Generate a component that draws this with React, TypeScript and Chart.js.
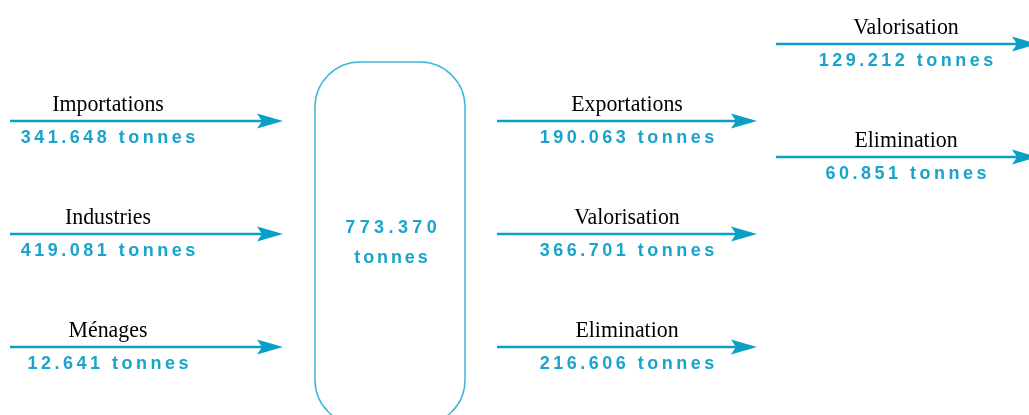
import React, { useEffect, useRef } from "react";
import { Chart, registerables } from "chart.js";

Chart.register(...registerables);

// ---- data ----
const inputLabels = ["Importations", "Industries", "Ménages"];
const inputValues = ["341.648", "419.081", "12.641"];
const outputLabels = ["Exportations", "Valorisation", "Elimination"];
const outputValues = ["190.063", "366.701", "216.606"];
const exportLabels = ["Valorisation", "Elimination"];
const exportValues = ["129.212", "60.851"];
const totalValue = "773.370";
const unit = "tonnes";

// ---- layout (in scale units) ----
const W = 1029;
const H = 415;
const rowY = [121, 234, 347];
const exportRowY = [44, 157];
const colIn = { x0: 10, x1: 283, label: 108 };
const colOut = { x0: 497, x1: 757, label: 627 };
const colExp = { x0: 776, x1: 1038, label: 906 };
const box = { x0: 315, x1: 465, y0: 62, y1: 425, r: 45 };

const ARROW = "#0a9fc7";
const NUM = "#1aa3cb";
const BOX = "#3fb6d9";

type Flow = { label: string; value: string; x0: number; x1: number; lx: number; y: number };

const flows: Flow[] = [
  ...inputLabels.map((l, i) => ({ label: l, value: inputValues[i], x0: colIn.x0, x1: colIn.x1, lx: colIn.label, y: rowY[i] })),
  ...outputLabels.map((l, i) => ({ label: l, value: outputValues[i], x0: colOut.x0, x1: colOut.x1, lx: colOut.label, y: rowY[i] })),
  ...exportLabels.map((l, i) => ({ label: l, value: exportValues[i], x0: colExp.x0, x1: colExp.x1, lx: colExp.label, y: exportRowY[i] })),
];

function spacedText(ctx: CanvasRenderingContext2D, text: string, cx: number, baseline: number, spacing: number) {
  const chars = Array.from(text);
  const widths = chars.map((c) => ctx.measureText(c).width);
  const total = widths.reduce((a, b) => a + b, 0) + spacing * (chars.length - 1);
  let x = cx - total / 2;
  ctx.textAlign = "left";
  chars.forEach((c, i) => {
    ctx.fillText(c, x, baseline);
    x += widths[i] + spacing;
  });
}

const decor = {
  id: "flowDecor",
  afterDatasetsDraw(chart: any) {
    const { ctx, scales } = chart;
    const xs = scales.x;
    const ys = scales.y;
    ctx.save();
    // central box
    const bx0 = xs.getPixelForValue(box.x0);
    const bx1 = xs.getPixelForValue(box.x1);
    const by0 = ys.getPixelForValue(box.y0);
    const by1 = ys.getPixelForValue(box.y1);
    ctx.strokeStyle = BOX;
    ctx.lineWidth = 1.5;
    ctx.beginPath();
    (ctx as any).roundRect(bx0, by0, bx1 - bx0, by1 - by0, box.r);
    ctx.stroke();

    // arrowheads and labels
    flows.forEach((f) => {
      const tip = xs.getPixelForValue(f.x1);
      const py = ys.getPixelForValue(f.y);
      ctx.fillStyle = ARROW;
      ctx.beginPath();
      ctx.moveTo(tip, py);
      ctx.lineTo(tip - 26, py - 7.5);
      ctx.lineTo(tip - 21, py);
      ctx.lineTo(tip - 26, py + 7.5);
      ctx.closePath();
      ctx.fill();

      const lx = xs.getPixelForValue(f.lx);
      // label (serif, condensed)
      ctx.fillStyle = "#000";
      ctx.font = "24px 'Liberation Serif', 'DejaVu Serif', serif";
      ctx.save();
      ctx.translate(lx, py - 10);
      ctx.scale(0.91, 1);
      ctx.textAlign = "center";
      ctx.fillText(f.label, 0, 0);
      ctx.restore();

      // value
      ctx.fillStyle = NUM;
      ctx.font = "bold 18px 'Liberation Sans', Arial, sans-serif";
      spacedText(ctx, `${f.value} ${unit}`, lx, py + 22, 3.5);
    });

    // total in the box
    const cx = (bx0 + bx1) / 2;
    ctx.fillStyle = NUM;
    ctx.font = "bold 18px 'Liberation Sans', Arial, sans-serif";
    spacedText(ctx, totalValue, cx + 1, ys.getPixelForValue(233), 4.4);
    spacedText(ctx, unit, cx + 1, ys.getPixelForValue(263), 2.9);
    ctx.restore();
  },
};

export default function App() {
  const ref = useRef<HTMLCanvasElement | null>(null);
  useEffect(() => {
    if (!ref.current) return;
    const datasets = flows.map((f) => ({
      type: "line" as const,
      data: [
        { x: f.x0, y: f.y },
        { x: f.x1 - 20, y: f.y },
      ],
      borderColor: ARROW,
      borderWidth: 2.5,
      pointRadius: 0,
      fill: false,
    }));
    const chart = new Chart(ref.current, {
      type: "scatter",
      data: { datasets } as any,
      options: {
        animation: false,
        responsive: false,
        maintainAspectRatio: false,
        showLine: true,
        layout: { padding: 0 },
        plugins: { legend: { display: false }, tooltip: { enabled: false } },
        scales: {
          x: { type: "linear", min: 0, max: W, display: false },
          y: { type: "linear", min: 0, max: H, reverse: true, display: false },
        },
      } as any,
      plugins: [decor],
    });
    return () => chart.destroy();
  }, []);
  return (
    <div style={{ position: "fixed", left: 0, top: 0, width: W, height: H, background: "#fff" }}>
      <canvas ref={ref} width={W} height={H} style={{ width: W, height: H, display: "block" }} />
    </div>
  );
}
